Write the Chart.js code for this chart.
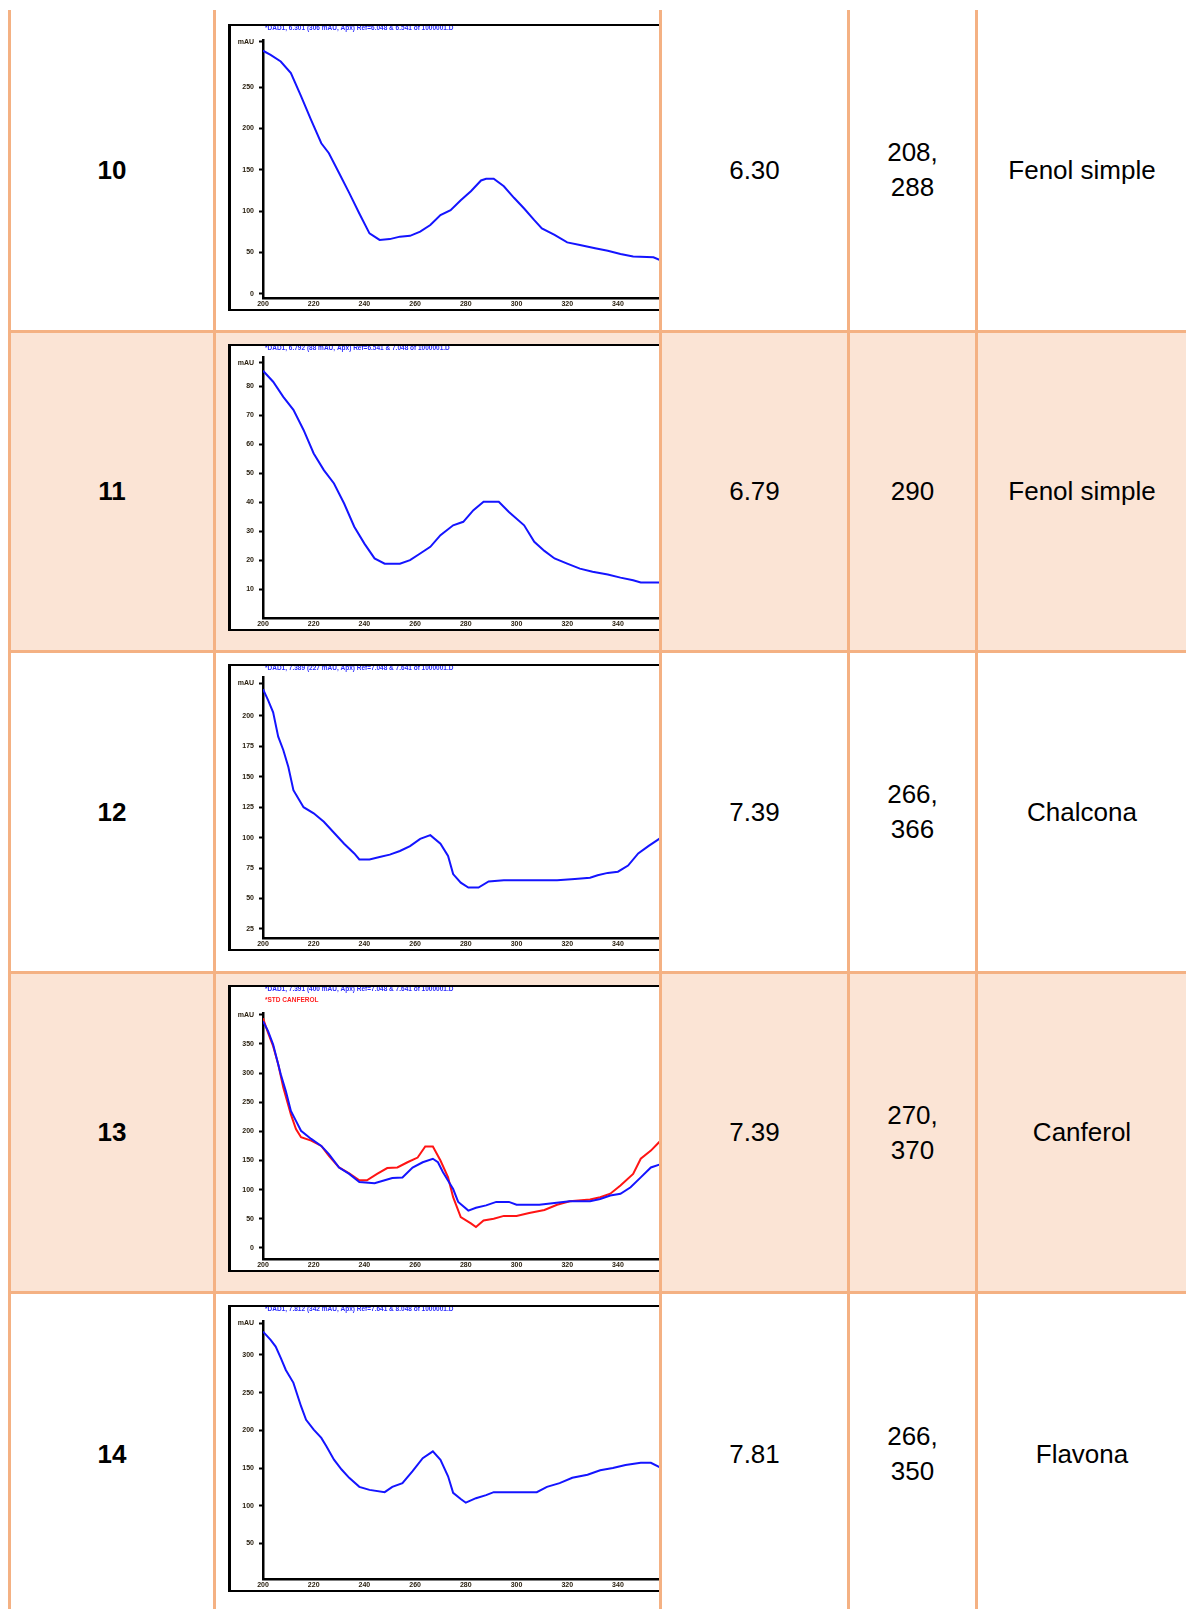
<!DOCTYPE html>
<html><head><meta charset="utf-8">
<script src="https://cdn.jsdelivr.net/npm/chart.js@4.4.1/dist/chart.umd.min.js"></script>
<style>
html,body{margin:0;padding:0;background:#fff;}
body{width:1186px;height:1609px;position:relative;overflow:hidden;font-family:"Liberation Sans",Arial,sans-serif;}
.band{position:absolute;left:8px;width:1178px;background:#FBE4D5;}
.hline{position:absolute;left:8px;width:1178px;height:3px;background:#F4B183;z-index:5;}
.vline{position:absolute;top:10px;width:3px;height:1599px;background:#F4B183;z-index:5;}
.frame{position:absolute;left:228px;width:428px;height:283px;border:solid #000;border-width:2px 0 2px 3px;background:#fff;}
.frame canvas{display:block;}
.cell{position:absolute;display:flex;align-items:center;justify-content:center;text-align:center;font-size:26px;line-height:35px;color:#000;}
.cell.num{font-weight:bold;}
.cell .wrap{max-width:70px;}
</style>
</head><body>
<div id="root"></div>
<script>
// ---------- table text ----------
const rowNumbers = ['10','11','12','13','14'];
const retentionTimes = ['6.30','6.79','7.39','7.39','7.81'];
const lambdaMax = ['208, 288','290','266, 366','270, 370','266, 350'];
const compoundClass = ['Fenol simple','Fenol simple','Chalcona','Canferol','Flavona'];

// ---------- spectra (wavelength nm / absorbance mAU) ----------
const xTickValues = [200,220,240,260,280,300,320,340];
const xTickLabels = ['200','220','240','260','280','300','320','340'];

const wl10 = [200,203,207,211,215,219,223,226,230,234,238,242,246,250,254,258,262,266,270,274,278,282,286,288,291,295,299,303,307,310,315,320,325,331,336,341,346,354,357];
const abs10 = [294,289,281,267,239,210,182,170,146,122,97,73,65,66,69,70,75,83,95,101,113,124,137,139,139,130,116,103,89,79,71,62,59,55,52,48,45,44,40];
const yTicks10 = [0,50,100,150,200,250,305];
const yLabels10 = ['0','50','100','150','200','250','mAU'];

const wl11 = [200,204,208,212,216,220,224,228,232,236,240,244,248,254,258,262,266,270,275,279,283,287,293,297,303,307,311,315,320,325,330,336,341,346,349,357];
const abs11 = [85.3,81.5,76.3,71.8,64.9,56.8,51.1,46.5,39.6,31.6,25.8,20.7,18.9,18.9,20.1,22.4,24.7,28.7,32.1,33.3,37.3,40.2,40.2,36.7,32.1,26.4,23.3,20.7,18.9,17.2,16.1,15.2,14.1,13.2,12.4,12.4];
const yTicks11 = [10,20,30,40,50,60,70,80,88];
const yLabels11 = ['10','20','30','40','50','60','70','80','mAU'];

const wl12 = [200,202,204,206,208,210,212,214,216,220,224,228,232,236,238,242,246,250,254,258,262,266,270,273,275,278,281,285,289,295,302,308,316,323,329,332,336,340,344,348,352,357];
const abs12 = [222,213,203,183,172,158,139,132,125,120,113,104,95,87,82,82,84,86,89,93,99,102,95,85,70,63,59,59,64,65,65,65,65,66,67,69,71,72,77,87,93,100];
const yTicks12 = [25,50,75,100,125,150,175,200,227];
const yLabels12 = ['25','50','75','100','125','150','175','200','mAU'];

const wl13a = [200,202,204,207,209,211,213,215,219,223,226,230,234,238,244,248,251,255,259,263,267,269,271,275,277,281,284,288,292,297,300,309,315,321,329,333,337,341,345,349,353,357];
const abs13a = [389,372,349,298,269,235,218,201,187,175,161,138,127,113,111,116,120,121,138,147,153,147,130,101,79,64,69,73,79,79,74,74,77,80,80,84,90,93,104,121,138,144];
const wl13b = [200,202,204,206,208,211,213,215,219,223,226,230,234,238,241,245,249,253,257,261,264,267,270,273,275,278,282,284,287,291,295,300,305,311,316,321,329,333,337,341,346,349,353,357];
const abs13b = [394,369,346,315,275,229,204,190,184,175,158,138,128,116,116,127,137,138,147,155,174,174,150,121,87,53,42,36,47,50,55,55,60,65,74,80,83,87,93,107,127,153,167,185];
const yTicks13 = [0,50,100,150,200,250,300,350,400];
const yLabels13 = ['0','50','100','150','200','250','300','350','mAU'];

const wl14 = [200,203,205,207,209,212,215,217,220,223,225,228,231,234,238,242,248,251,255,259,263,267,270,273,275,278,280,284,288,291,301,308,312,317,322,328,333,338,343,349,353,357];
const abs14 = [331,320,311,296,280,263,232,214,201,190,179,161,148,137,125,121,118,125,130,146,163,172,161,139,117,109,104,110,114,118,118,118,125,130,137,141,147,150,154,157,157,150];
const yTicks14 = [50,100,150,200,250,300,342];
const yLabels14 = ['50','100','150','200','250','300','mAU'];

const spectrumTitles = [
  '*DAD1, 6.301 (306 mAU, Apx) Ref=6.048 & 6.541 of 1000001.D',
  '*DAD1, 6.792 (88 mAU, Apx) Ref=6.541 & 7.048 of 1000001.D',
  '*DAD1, 7.389 (227 mAU, Apx) Ref=7.048 & 7.641 of 1000001.D',
  '*DAD1, 7.391 (400 mAU, Apx) Ref=7.048 & 7.641 of 1000001.D',
  '*DAD1, 7.812 (342 mAU, Apx) Ref=7.641 & 8.048 of 1000001.D'
];
const referenceTitle = '*STD CANFEROL';

// ---------- layout ----------
const root = document.getElementById('root');
function div(cls, style, html){const d=document.createElement('div');d.className=cls;Object.assign(d.style,style);if(html!==undefined)d.innerHTML=html;root.appendChild(d);return d;}
const rowTop = [10,333,653,974,1294];
const rowBot = [330,650,971,1291,1614];
const frameTop = [24,344,664,985,1305];
[1,3].forEach(i=>div('band',{top:(rowTop[i]-3)+'px',height:(rowBot[i]-rowTop[i]+6)+'px'}));

const titlePlugin = {
  id:'specTitle',
  afterDraw(chart, args, opts){
    const c = chart.ctx; c.save();
    c.font = 'bold 6.5px "Liberation Sans", Arial, sans-serif';
    c.textBaseline = 'middle';
    (opts.lines||[]).forEach(l=>{c.fillStyle=l.color;c.fillText(l.text, chart.chartArea.left+2, l.y);});
    c.restore();
  }
};

const charts = [
  {series:[{x:wl10,y:abs10,color:'#1414ff'}], yMin:-6, yMax:307, ticks:yTicks10, labels:yLabels10, pad:14},
  {series:[{x:wl11,y:abs11,color:'#1414ff'}], yMin:0, yMax:90, ticks:yTicks11, labels:yLabels11, pad:11},
  {series:[{x:wl12,y:abs12,color:'#1414ff'}], yMin:17, yMax:232, ticks:yTicks12, labels:yLabels12, pad:11},
  {series:[{x:wl13a,y:abs13a,color:'#1414ff'},{x:wl13b,y:abs13b,color:'#ff1414'}], yMin:-20, yMax:403, ticks:yTicks13, labels:yLabels13, pad:26, ref:true},
  {series:[{x:wl14,y:abs14,color:'#1414ff'}], yMin:2, yMax:345, ticks:yTicks14, labels:yLabels14, pad:14}
];

const tickFont = {size:7,weight:'bold',family:'"Liberation Sans", Arial, sans-serif',lineHeight:1.2};

charts.forEach((cfg,i)=>{
  const f = div('frame',{top:frameTop[i]+'px'});
  const cv = document.createElement('canvas'); cv.width=428; cv.height=283; f.appendChild(cv);
  const lines=[{text:spectrumTitles[i],color:'#2a2aff',y:2}];
  if(cfg.ref) lines.push({text:referenceTitle,color:'#ff2020',y:13});
  new Chart(cv.getContext('2d'),{
    type:'line',
    data:{datasets:cfg.series.map(s=>({data:s.x.map((x,k)=>({x:x,y:s.y[k]})),borderColor:s.color,borderWidth:2,pointRadius:0,tension:0,fill:false}))},
    options:{
      responsive:false, animation:false, devicePixelRatio:1,
      layout:{padding:{top:cfg.pad,left:0,right:0,bottom:0}},
      plugins:{legend:{display:false},tooltip:{enabled:false},specTitle:{lines:lines}},
      scales:{
        x:{type:'linear',position:'bottom',min:200,max:356.2,
          afterBuildTicks:s=>{s.ticks=xTickValues.map(v=>({value:v}));},
          grid:{display:true,drawOnChartArea:false,drawTicks:false,color:'#000'},
          border:{display:true,color:'#000',width:2.5},
          ticks:{display:true,autoSkip:false,maxRotation:0,minRotation:0,padding:1,color:'#2a2010',font:tickFont,callback:(v,k)=>xTickLabels[k]}
        },
        y:{type:'linear',min:cfg.yMin,max:cfg.yMax,
          afterBuildTicks:s=>{s.ticks=cfg.ticks.map(v=>({value:v}));},
          afterFit:s=>{s.width=32;},
          grid:{display:true,drawOnChartArea:false,drawTicks:true,tickLength:4,tickWidth:2,color:'#000'},
          border:{display:true,color:'#000',width:2.5},
          ticks:{autoSkip:false,padding:5,color:'#2a2010',font:tickFont,callback:(v,k)=>cfg.labels[k]}
        }
      }
    },
    plugins:[titlePlugin]
  });
});

// text cells
for(let i=0;i<5;i++){
  const top=rowTop[i], h=rowBot[i]-rowTop[i];
  div('cell num',{left:'11px',width:'202px',top:top+'px',height:h+'px'},rowNumbers[i]);
  div('cell',{left:'662px',width:'185px',top:top+'px',height:h+'px'},retentionTimes[i]);
  div('cell',{left:'850px',width:'125px',top:top+'px',height:h+'px'},'<div class="wrap">'+lambdaMax[i]+'</div>');
  div('cell',{left:'978px',width:'208px',top:top+'px',height:h+'px'},compoundClass[i]);
}

// grid lines
[330,650,971,1291].forEach(y=>div('hline',{top:y+'px'}));
[8,213,659,847,975].forEach(x=>div('vline',{left:x+'px'}));
</script>
</body></html>
